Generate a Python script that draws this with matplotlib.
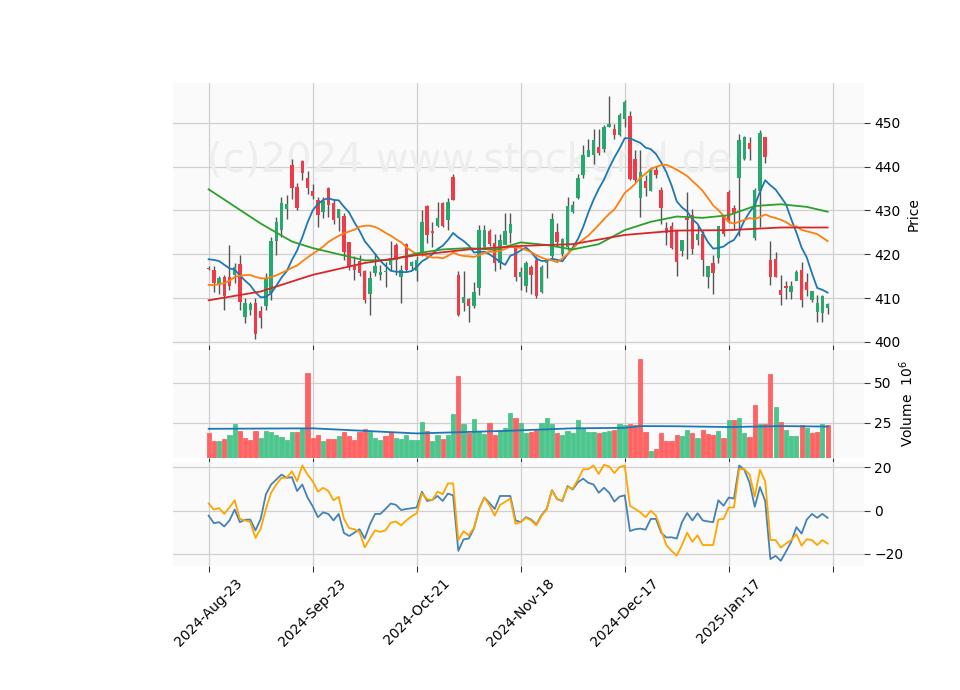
import numpy as np
import matplotlib
matplotlib.use("Agg")
import matplotlib.pyplot as plt

opens = [416.8,416.4,413.2,414.8,414.8,415.3,417.8,405.8,407.3,408.9,407.0,408.1,411.1,423.1,425.5,430.3,440.3,435.2,441.3,437.4,
         434.4,432.3,429.7,435.0,431.6,428.2,428.6,422.7,417.6,418.3,416.1,411.0,415.7,415.2,416.0,417.6,422.1,414.9,422.3,417.3,
         416.1,420.2,431.0,425.3,426.4,431.6,427.8,437.5,415.3,408.9,409.8,408.1,412.3,421.7,425.2,422.5,418.0,422.1,424.9,421.7,
         414.8,412.8,417.0,418.7,411.3,418.0,419.6,425.1,420.1,421.7,429.7,432.9,438.0,442.2,442.6,444.3,444.1,449.0,448.4,447.1,
         450.9,451.4,441.7,432.9,436.7,434.5,439.2,434.6,425.9,426.3,425.5,420.8,428.2,428.9,423.3,424.6,414.9,418.0,419.1,428.4,
         434.2,430.5,437.4,441.8,445.4,423.6,434.5,446.7,418.7,418.9,411.7,412.6,411.4,413.8,416.4,413.6,409.5,406.8,406.7,407.7]
closes = [416.6,413.4,414.5,410.4,412.8,417.0,409.2,408.8,408.5,401.7,405.5,414.2,423.0,427.2,431.6,431.4,435.0,430.5,438.6,435.2,
          433.3,428.9,432.1,431.2,427.8,430.3,420.6,417.2,416.4,415.7,409.6,414.5,417.2,415.8,416.1,419.1,418.6,416.3,416.4,418.1,
          418.7,427.4,424.4,424.8,428.2,426.4,431.8,432.3,406.2,410.2,408.3,411.4,425.5,425.5,422.3,418.0,423.1,425.3,426.9,414.9,
          415.8,418.0,415.3,410.4,417.0,418.1,428.0,422.9,423.4,431.0,431.2,437.3,442.6,443.7,446.0,443.0,449.0,449.6,447.1,451.7,
          454.7,437.1,437.0,438.8,435.2,439.5,438.0,430.5,424.8,421.4,418.3,423.3,427.7,421.1,424.6,418.7,417.2,415.7,426.3,424.6,
          427.4,429.4,446.1,446.7,443.9,434.6,447.5,442.2,414.9,414.8,410.8,412.4,412.6,415.8,409.6,411.9,411.5,408.9,410.5,408.5]
highs = [417.4,417.4,415.0,415.2,422.1,418.0,419.9,410.0,409.0,410.0,408.1,415.8,424.0,428.5,433.0,433.4,441.8,436.2,441.4,439.0,
         436.1,433.0,433.0,435.3,432.4,430.4,429.4,422.9,419.5,419.8,416.5,416.1,420.3,417.6,418.2,423.1,422.5,417.6,422.5,418.4,
         419.5,430.2,431.2,427.4,431.9,432.0,432.9,438.4,416.1,416.1,410.0,413.6,426.7,426.7,425.8,424.7,424.7,429.4,429.4,422.1,
         417.2,418.4,417.5,419.5,417.5,418.7,429.4,427.2,423.6,433.0,432.1,438.4,444.9,446.2,448.6,448.6,449.4,456.2,449.6,452.1,
         455.1,452.7,443.8,443.8,438.0,439.9,440.2,435.4,427.4,427.4,425.5,421.2,434.2,430.4,426.7,425.2,416.4,419.9,420.6,428.9,
         434.6,431.3,447.4,446.9,446.7,435.0,448.3,446.7,423.0,420.6,415.3,413.8,413.8,416.3,418.3,415.8,410.8,410.7,410.7,408.9]
lows = [416.5,411.5,411.0,407.3,411.9,413.5,407.3,404.4,406.2,400.7,403.1,407.2,409.6,419.9,424.0,428.1,432.6,430.2,436.9,433.8,
        432.5,426.3,428.2,428.6,427.0,425.4,418.7,416.5,414.1,415.0,408.9,406.2,415.0,414.2,412.6,416.5,415.3,408.9,416.1,416.4,
        413.9,419.6,422.5,421.6,426.1,426.1,425.5,432.3,405.9,407.1,404.6,407.8,410.7,421.3,421.8,416.1,416.6,424.9,422.5,413.8,
        411.9,411.4,410.9,410.0,411.1,414.5,418.9,421.8,419.6,420.9,429.4,432.6,437.4,442.6,440.6,442.6,443.4,449.0,446.2,446.9,
        449.0,436.9,436.5,428.6,433.3,434.4,437.3,426.9,422.1,421.2,415.0,419.6,418.9,420.1,422.1,415.0,412.2,410.9,418.1,424.1,
        427.1,425.6,424.1,441.6,441.6,423.2,426.1,440.9,412.9,414.7,408.4,409.9,409.9,415.4,407.9,410.4,409.1,404.5,404.5,406.3]
prior_closes = [415,410,406,402,399,404,406,408,410,412,415,417,419,421,420,422,421,419,418]

ma50_idx = [0,10,16,20,25,30,35,40,45,50,55,60,65,70,75,80,85,90,95,100,105,110,115,119]
ma50_val = [434.8,427.0,422.9,421.4,420.0,418.6,418.7,420.2,421.1,421.4,421.0,422.7,422.1,421.1,422.3,425.5,427.4,428.6,428.3,428.9,431.0,431.4,430.8,429.7]
ma200_idx = [0,10,20,30,40,50,60,70,80,90,100,110,119]
ma200_val = [409.5,411.5,415.3,418.0,419.8,421.1,421.9,422.3,424.4,425.4,425.5,426.1,426.1]

volume = [18.6,13.7,13.7,14.7,17.5,24.4,20.1,15.4,14.3,20.1,15.4,20.1,19.2,17.5,16.2,14.3,19.2,19.2,21.8,56.0,
          15.4,17.5,13.7,14.7,14.7,16.9,19.2,16.9,14.3,19.2,21.2,19.2,15.4,14.3,16.9,19.2,15.4,14.7,17.5,14.3,
          14.3,25.6,20.1,13.7,17.5,14.7,17.5,30.3,54.5,24.4,18.6,27.1,19.7,17.9,25.0,17.5,20.1,21.8,30.8,28.2,
          25.0,18.6,19.2,20.7,25.0,28.2,23.9,18.6,17.1,20.1,18.6,26.5,21.8,19.2,19.2,18.6,19.2,20.1,20.7,23.9,
          23.3,24.4,23.5,65.0,19.2,7.3,8.5,18.6,13.7,13.7,17.5,16.9,20.7,18.6,15.4,20.7,17.9,17.5,20.1,15.4,
          26.5,26.5,28.2,18.6,16.2,36.1,23.9,23.9,55.3,34.6,25.6,20.7,16.9,16.9,23.3,21.8,18.6,19.2,24.4,23.3]
vol_dir = ("rrgrggrrrr" "gggggggrgr" "rrgrrgrrrr" "rgggrrgggg" "ggrggrggrg"
           "rgggrrgggr" "ggrrgggrgg" "gggggrggrg" "grrrrgrrrr" "rggrgrrrgr"
           "grggrrgrrg" "rgggrgrrgr")
volma_idx = [0,20,40,58,70,80,83,90,100,110,119]
volma_val = [21.2,21.5,18.3,20.0,21.5,21.8,22.9,22.8,22.3,22.9,22.6]

osc_blue = [-2.3,-5.8,-5.3,-7.3,-4.5,0.5,-5.3,-4.2,-4.1,-9.1,-3.8,7.6,12.1,14.4,16.7,15.2,15.5,9.1,12.1,6.1,
            2.0,-3.0,-0.8,-1.5,-4.5,-1.5,-10.3,-11.7,-10.2,-8.6,-12.9,-6.4,-1.5,-1.5,0.8,3.3,2.7,0.3,0.8,1.1,
            1.5,8.8,4.5,5.0,6.8,4.5,7.9,7.1,-18.6,-13.3,-12.9,-8.3,0.8,6.1,3.5,0.8,6.8,6.8,6.8,-4.5,
            -5.3,-3.0,-4.1,-6.4,-2.0,0.8,9.5,5.3,4.5,11.4,9.8,13.2,14.8,12.9,12.1,8.3,10.6,8.3,4.2,6.5,
            7.1,-9.4,-8.6,-8.3,-8.8,-3.8,-3.8,-10.2,-12.4,-12.3,-12.9,-5.3,-1.1,-4.5,-1.2,-4.5,-5.0,-5.3,4.8,2.3,
            6.1,5.6,20.9,18.9,12.9,1.8,10.9,4.5,-22.4,-20.9,-23.2,-18.9,-14.4,-7.6,-10.6,-4.1,-1.5,-3.3,-1.5,-3.3]
osc_orange = [3.3,0.5,1.2,-1.5,1.5,4.8,-3.8,-4.5,-5.3,-12.6,-8.3,0.8,8.3,12.1,15.2,15.2,18.2,13.6,20.9,16.7,
              13.6,8.8,10.6,9.1,4.8,6.4,-3.8,-8.0,-8.6,-9.8,-17.0,-12.9,-9.1,-9.8,-9.1,-5.6,-5.0,-6.8,-4.5,-2.6,
              -1.2,8.0,5.3,5.0,8.8,7.6,12.6,12.6,-13.6,-9.5,-11.4,-8.0,0.8,6.1,2.3,-2.3,2.6,4.1,5.6,-6.1,
              -5.3,-3.3,-4.5,-6.8,-2.3,0.5,9.5,5.3,4.8,10.9,10.2,14.4,19.2,19.2,20.9,17.0,21.2,20.5,17.4,20.2,
              20.8,2.3,0.8,-0.8,-3.0,0.0,-2.3,-9.1,-15.9,-18.6,-20.8,-15.9,-10.2,-14.4,-11.4,-15.9,-15.9,-15.9,-4.1,-3.8,
              1.5,1.5,19.2,19.2,16.7,6.5,18.9,13.6,-13.6,-13.6,-17.1,-15.2,-13.6,-10.9,-16.2,-13.2,-13.6,-15.9,-13.6,-15.2]

tick_pos = [0, 20, 40, 60, 80, 100, 120]
tick_labels = ["2024-Aug-23", "2024-Sep-23", "2024-Oct-21", "2024-Nov-18", "2024-Dec-17", "2025-Jan-17", ""]

UP, DN = "#26a96c", "#f03a47"
VUP, VDN = "#4cc68d", "#ff6464"
BG, GRID = "#fafafa", "#d0d0d0"

n = len(closes)
x = np.arange(n)
allc = np.array(prior_closes + closes)
ma10 = np.convolve(allc, np.ones(10) / 10, mode="valid")[-n:]
ma20 = np.convolve(allc, np.ones(20) / 20, mode="valid")[-n:]

fig = plt.figure(figsize=(9.6, 6.9), dpi=100)
ax1 = fig.add_axes([0.180, 0.500, 0.720, 0.380])
ax2 = fig.add_axes([0.180, 0.336, 0.720, 0.157])
ax3 = fig.add_axes([0.180, 0.180, 0.720, 0.151])

for ax in (ax1, ax2, ax3):
    ax.set_facecolor(BG)
    ax.grid(True, color=GRID, linewidth=0.9)
    ax.set_axisbelow(True)
    for s in ax.spines.values():
        s.set_visible(False)
    ax.yaxis.tick_right()
    ax.yaxis.set_label_position("right")
    ax.set_xlim(-6.9, 126)
    ax.set_xticks(tick_pos)
    ax.tick_params(axis="both", length=4, color="#333333")

o, c, h, l = map(np.array, (opens, closes, highs, lows))
up = c >= o
cols = np.where(up, UP, DN)
ax1.vlines(x, l, h, color="#555555", linewidth=1.0, zorder=2)
ax1.bar(x, np.abs(c - o) + 0.05, bottom=np.minimum(o, c), width=0.65, color=cols, zorder=3)
ax1.plot(x, ma10, color="#1f77b4", lw=1.3, zorder=4)
ax1.plot(x, ma20, color="#ff7f0e", lw=1.3, zorder=4)
ax1.plot(ma50_idx, ma50_val, color="#2ca02c", lw=1.3, zorder=4)
ax1.plot(ma200_idx, ma200_val, color="#d62728", lw=1.3, zorder=4)
ax1.set_ylim(399.3, 459.1)
ax1.set_yticks([400, 410, 420, 430, 440, 450])
ax1.set_ylabel("Price")
ax1.set_xticklabels([])
ax1.text(0.05, 0.7, "(c)2024 www.stockgrid.de", transform=ax1.transAxes, fontsize=29,
         color="#eeeeee", zorder=1, va="center")

vcols = [VUP if d == "g" else VDN for d in vol_dir]
ax2.bar(x, volume, width=0.8, color=vcols, edgecolor=vcols, linewidth=0.6, zorder=3)
ax2.plot(volma_idx, volma_val, color="#1f77b4", lw=1.3, zorder=4)
ax2.set_ylim(2.8, 70.7)
ax2.set_yticks([25, 50])
ax2.set_ylabel("Volume  $10^6$")
ax2.set_xticklabels([])

ax3.plot(x, osc_blue, color="steelblue", lw=1.3)
ax3.plot(x, osc_orange, color="orange", lw=1.3)
ax3.set_ylim(-25.5, 22.7)
ax3.set_yticks([-20, 0, 20])
ax3.set_xticklabels(tick_labels, rotation=45, ha="center")

fig.savefig("out.png", dpi=100)
